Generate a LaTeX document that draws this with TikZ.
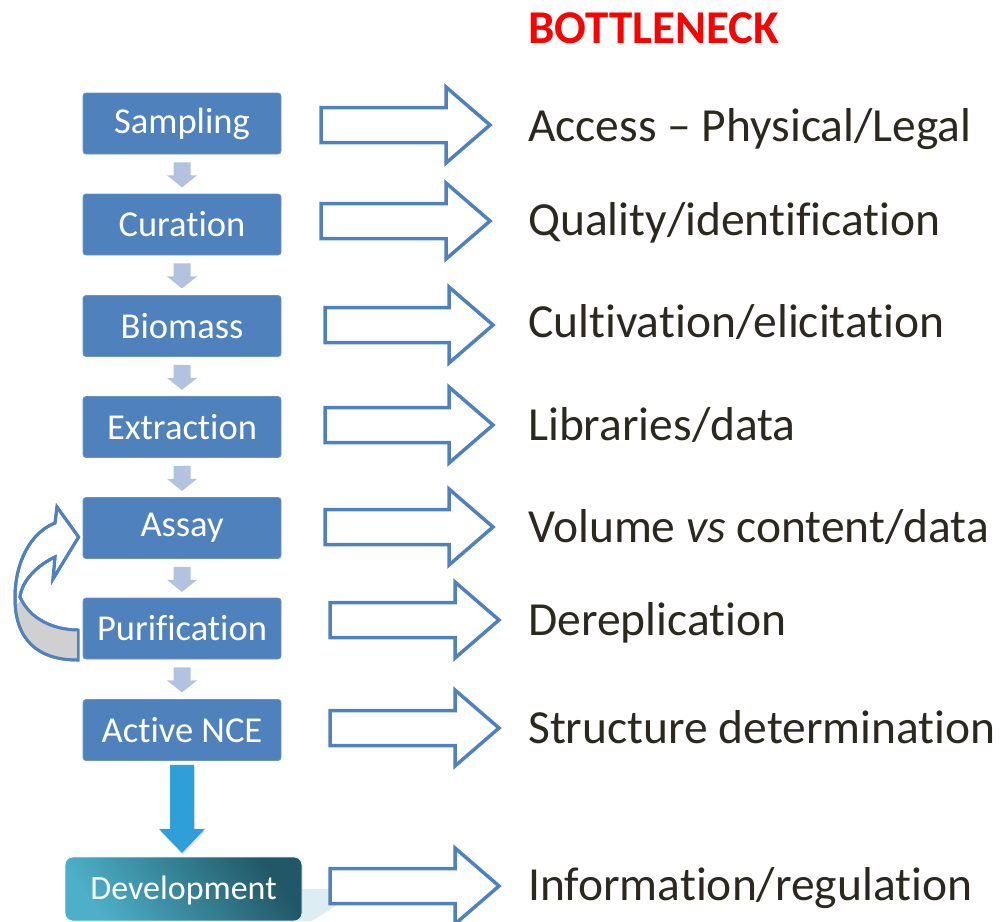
\documentclass[tikz,border=0pt]{standalone}
\usepackage{fontspec}
\setmainfont{Carlito}[Ligatures=NoCommon]
\usetikzlibrary{calc}
\definecolor{boxblue}{HTML}{4F81BD}
\definecolor{stepgray}{HTML}{B3C3DF}
\definecolor{devarrow}{HTML}{2E9FD8}
\definecolor{devlight}{HTML}{4CB0C8}
\definecolor{devdark}{HTML}{215766}
\definecolor{tailcyan}{HTML}{DCEEF3}
\definecolor{labeltext}{HTML}{2B2821}
\definecolor{bandgray}{HTML}{D0D0D0}
\tikzset{
  stagebox/.style={fill=boxblue, draw=boxblue!85!white, line width=0.8pt, rounded corners=3pt,
    minimum width=198pt, minimum height=61pt, text=white, inner sep=0pt,
    font=\fontsize{36.5}{40}\selectfont},
  steparrow/.style={fill=stepgray, draw=none},
  hollow/.style={draw=boxblue, line width=3.5pt, fill=white, miter limit=10},
  bottlelabel/.style={anchor=base west, inner sep=0pt, text=labeltext,
    font=\fontsize{47.5}{50}\selectfont},
}
% small down arrow between two stacked boxes
\newcommand\steplink[2]{%
  \fill[steparrow] ($(#1.south)+(-8.5,8)$) -- ++(17,0) -- ++(0,13) -- ++(6.5,0)
    -- ($(#1.south)+(0,33)$) -- ($(#1.south)+(-15,21)$) -- ++(6.5,0) -- cycle;}
% outlined block arrow: left x, tip x, centre y
\newcommand\blockarrow[3]{%
  \draw[hollow] (#1,#3-17.5) -- (#2-44,#3-17.5) -- (#2-44,#3-38) -- (#2,#3)
    -- (#2-44,#3+38) -- (#2-44,#3+17.5) -- (#1,#3+17.5) -- cycle;}
\begin{document}
\begin{tikzpicture}[x=1pt,y=-1pt]
\useasboundingbox (0,0) rectangle (1003,921);

% process stages
\node[stagebox] (samp) at (182,123.5) {Sampling};
\node[stagebox] (cur)  at (182,224.5) {Curation};
\node[stagebox] (bio)  at (182,326)   {Biomass};
\node[stagebox] (ext)  at (182,427)   {Extraction};
\node[stagebox] (ass)  at (182,528)   {Assay};
\node[stagebox] (pur)  at (182,628.5) {Purification};
\node[stagebox] (nce)  at (182,730)   {Active NCE};

\steplink{samp}{cur}
\steplink{cur}{bio}
\steplink{bio}{ext}
\steplink{ext}{ass}
\steplink{ass}{pur}
\steplink{pur}{nce}

% callout tail behind the development box
\fill[tailcyan] (298,889) -- (345,889) -- (345,900) -- (312,921) -- (298,921) -- cycle;

% development box
\shade[rounded corners=8pt, left color=devlight, right color=devdark, shading angle=125,
  draw=white!85!devlight, line width=0.8pt] (65,857) rectangle (302,921);
\node[text=white, font=\fontsize{34}{38}\selectfont, inner sep=0pt] (dev) at (183.5,890) {Development};

% arrow from the active compound to development
\fill[black, opacity=0.12] ($(nce.south)+(-11,6)$) -- ++(24,0) -- ++(0,64) -- ++(11,0)
  -- ($(nce.south)+(1,94)$) -- ($(nce.south)+(-22,70)$) -- ++(11,0) -- cycle;
\fill[devarrow] ($(nce.south)+(-12,4)$) -- ++(24,0) -- ++(0,64) -- ++(11,0)
  -- ($(nce.south)+(0,92)$) -- ($(nce.south)+(-23,68)$) -- ++(11,0) -- cycle;

% feedback loop from purification back to assay
\coordinate (fbtip) at ($(ass.west)+(-4,9)$);
\filldraw[fill=white, draw=boxblue, line width=3pt, line join=miter]
  (78,660) .. controls (38,660) and (15,640) .. (15,598)
  .. controls (15,560) and (32,532) .. (55,523)
  -- (57,507) -- (fbtip) -- (53,579) -- (55,557)
  .. controls (38,565) and (22,580) .. (20,597)
  .. controls (30,620) and (55,630) .. (78,630) -- cycle;
\fill[bandgray] (21,600) .. controls (30,620) and (55,628) .. (76.5,628.5) -- (76.5,658.5)
  .. controls (38,658.5) and (17,640) .. (16.5,605) -- cycle;
\draw[draw=boxblue, line width=3pt, line join=miter]
  (78,660) .. controls (38,660) and (15,640) .. (15,598)
  .. controls (15,560) and (32,532) .. (55,523)
  -- (57,507) -- (fbtip) -- (53,579) -- (55,557)
  .. controls (38,565) and (22,580) .. (20,597)
  .. controls (30,620) and (55,630) .. (78,630);

% bottleneck arrows
\blockarrow{321}{490}{125}
\blockarrow{321}{490}{221}
\blockarrow{325}{493}{325}
\blockarrow{325}{493}{425}
\blockarrow{325}{493}{527}
\blockarrow{330}{499}{620}
\blockarrow{330}{499}{728}
\blockarrow{330}{499}{886}

% bottlenecks
\node[bottlelabel, text=red, font=\fontsize{47}{50}\selectfont\bfseries] (head) at (528,43) {BOTTLENECK};
\node[bottlelabel] (b1) at (528,141) {Access – Physical/Legal};
\node[bottlelabel] (b2) at (528,235) {Quality/identification};
\node[bottlelabel] (b3) at (528,337) {Cultivation/elicitation};
\node[bottlelabel] (b4) at (528,440) {Libraries/data};
\node[bottlelabel] (b5) at (528,542) {Volume \textit{vs} content/data};
\node[bottlelabel] (b6) at (528,635) {Dereplication};
\node[bottlelabel] (b7) at (528,743) {Structure determination};
\node[bottlelabel] (b8) at (528,900) {Information/regulation};
\end{tikzpicture}
\end{document}
